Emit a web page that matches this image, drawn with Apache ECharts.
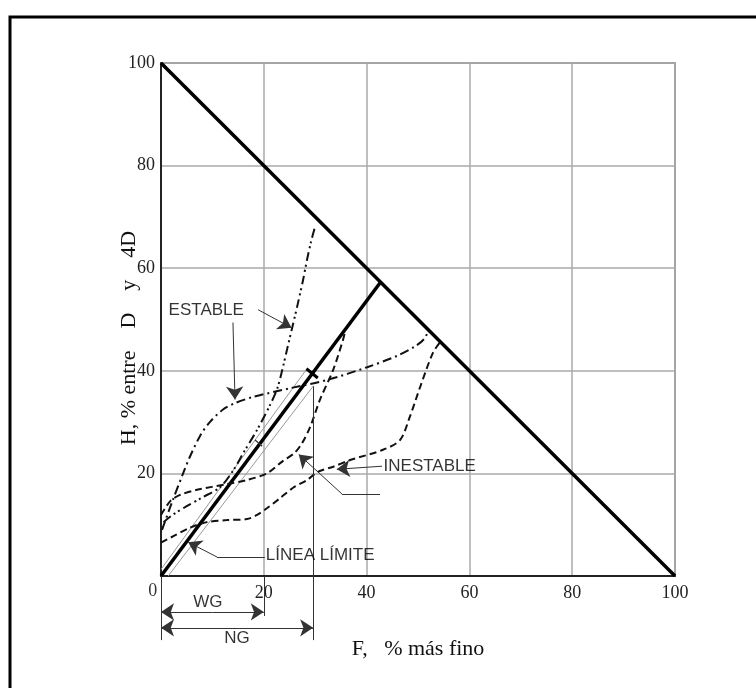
<!DOCTYPE html>
<html>
<head>
<meta charset="utf-8">
<script src="https://cdn.jsdelivr.net/npm/echarts@6/dist/echarts.min.js"></script>
<style>
  html, body { margin: 0; padding: 0; background: #fff; }
  #chart { width: 756px; height: 688px; }
</style>
</head>
<body>
<div id="chart"></div>
<script>
// tick values (F and H axes share the same 0..100 ticks)
const ticks = [0, 20, 40, 60, 80, 100];

// reference lines
const diagonal = [[0, 100], [100, 0]];
const limitLine = [[0, 0], [42.6, 57.1]];
const limitThinLeft = [[0, 1.3], [28.4, 40.4]];
const limitThinRight = [[1.4, 0], [29.6, 37]];

// ESTABLE curves
const estableLow = [
  [0.2, 9], [2.3, 14.8], [4.3, 20], [5.6, 23.2], [7.6, 27.3], [9.5, 30],
  [12, 32.4], [14.4, 33.7], [17.9, 34.9], [25.1, 36.6], [32.3, 38.2],
  [40.1, 40.7], [45.9, 42.9], [49.5, 44.8], [51.2, 46.2], [52, 47.8]
];
const estableHigh = [
  [0.5, 10.5], [2.1, 11.8], [5, 13.6], [8, 15.3], [11.5, 17.3], [14, 20.5],
  [16.2, 24.3], [18.7, 28.5], [21.2, 33.3], [22.6, 36.5], [23.6, 40.2],
  [24.6, 44.5], [25.5, 48.3], [26.6, 53], [27.6, 57.5], [28.4, 61.6],
  [29.2, 65.2], [30, 68.2]
];

// INESTABLE curves
const inestableHigh = [
  [0, 11.9], [1.8, 14.6], [3.7, 15.8], [7, 16.8], [12.8, 17.9], [16.7, 18.7],
  [20.6, 20], [23.7, 22.4], [26, 24], [27.5, 26], [29, 29], [30.9, 34.3],
  [33.5, 40.2], [35.4, 46], [35.8, 47.6]
];
const inestableLow = [
  [0, 6.5], [2.1, 7.6], [5.6, 9.4], [8.9, 10.5], [12.8, 10.9], [16.7, 11.1],
  [18.7, 11.9], [20.6, 13.2], [23.2, 15.2], [25.7, 17.2], [28.4, 18.7],
  [30.5, 20.3], [33.5, 21.3], [36.8, 22.6], [43.2, 24.6], [46.5, 26.5],
  [48.4, 31], [50.4, 36.8], [52.9, 43.5], [54.3, 45.6]
];

const chart = echarts.init(document.getElementById("chart"));

const serif = "Liberation Serif";
const sans = "Liberation Sans";
const ink = "#111";

function curve(data, dash) {
  return {
    type: "line",
    data: data,
    symbol: "none",
    smooth: 0.3,
    silent: true,
    lineStyle: { color: ink, width: 2, type: dash },
    z: 4,
  };
}

function straight(data, color, width, z) {
  return {
    type: "line",
    data: data,
    symbol: "none",
    silent: true,
    lineStyle: { color: color, width: width },
    z: z || 3,
  };
}

// one straight segment in data coordinates, arrow heads optional
function segment(a, b, symbols) {
  return {
    type: "lines",
    coordinateSystem: "cartesian2d",
    clip: false,
    silent: true,
    symbol: symbols || ["none", "none"],
    symbolSize: [6, 13],
    lineStyle: { color: "#333", width: 1, opacity: 1, curveness: 0 },
    data: [{ coords: [a, b] }],
    z: 5,
  };
}

// leader polyline, arrow at the last point
function leader(coords) {
  const out = [];
  for (let i = 0; i < coords.length - 1; i++) {
    const last = i === coords.length - 2;
    out.push(segment(coords[i], coords[i + 1], last ? ["none", "arrow"] : null));
  }
  return out;
}

function note(text, pos, opts) {
  opts = opts || {};
  return {
    type: "scatter",
    symbolSize: 0,
    silent: true,
    clip: false,
    data: [{ value: pos }],
    label: {
      show: true,
      formatter: text,
      position: opts.left ? "right" : "inside",
      distance: 0,
      color: "#000",
      fontFamily: opts.font || sans,
      fontSize: opts.size || 17,
    },
    z: 6,
  };
}

const tickLabel = { fontFamily: serif, fontSize: 18, color: "#222" };

const option = {
  backgroundColor: "#fff",
  animation: false,
  grid: {
    left: 161, top: 63, width: 514, height: 513,
    show: true, borderColor: "#777", borderWidth: 1.5,
  },
  xAxis: {
    type: "value", min: ticks[0], max: ticks[ticks.length - 1], interval: 20,
    name: "F,   % más fino", nameLocation: "middle", nameGap: 62,
    nameTextStyle: { fontFamily: serif, fontSize: 22, color: ink },
    axisLine: { lineStyle: { color: "#222", width: 2 } },
    axisTick: { show: false },
    axisLabel: Object.assign({ margin: 8, showMinLabel: false }, tickLabel),
    splitLine: { lineStyle: { color: "#aaa", width: 1.5 } },
  },
  yAxis: {
    type: "value", min: ticks[0], max: ticks[ticks.length - 1], interval: 20,
    axisLine: { show: true, lineStyle: { color: "#222", width: 2 } },
    axisTick: { show: false },
    axisLabel: Object.assign({ margin: 6, showMinLabel: false }, tickLabel),
    splitLine: { lineStyle: { color: "#aaa", width: 1.5 } },
  },
  graphic: [
    {
      type: "rect", silent: true, z: 0,
      shape: { x: 10, y: 17, width: 760, height: 700 },
      style: { fill: "none", stroke: "#000", lineWidth: 3 },
    },
    {
      type: "text", silent: true, x: 129, y: 338, rotation: Math.PI / 2,
      style: {
        text: "H, % entre    D    y    4D", fontFamily: serif, fontSize: 22,
        fill: ink, align: "center", verticalAlign: "middle",
      },
    },
  ],
  series: [
    straight(limitThinLeft, "#999", 1),
    straight(limitThinRight, "#999", 1),
    straight(diagonal, "#000", 3.5, 4),
    straight(limitLine, "#000", 3.5, 4),
    curve(estableLow, [9, 4, 2, 4]),
    curve(estableHigh, [9, 4, 2, 3, 2, 4]),
    curve(inestableHigh, [7, 4]),
    curve(inestableLow, [7, 4]),
    // ticks on the limit line
    straight([[28.3, 40.4], [30.5, 38.6]], "#000", 3, 5),
    straight([[18.3, 26.5], [19.7, 25.3]], "#333", 1.2, 5),
    // dimension extension lines below the axis
    segment([0, 0], [0, -12.5]),
    segment([20, 0], [20, -7.8]),
    segment([29.6, 37], [29.6, -12.5]),
    segment([10, -7], [0, -7], ["none", "arrow"]),
    segment([10, -7], [20, -7], ["none", "arrow"]),
    segment([15, -10.1], [0, -10.1], ["none", "arrow"]),
    segment([15, -10.1], [29.6, -10.1], ["none", "arrow"]),
    // annotation leaders
    ...leader([[14, 49.4], [14.4, 34.4]]),
    ...leader([[18.9, 51.9], [25.4, 48.4]]),
    ...leader([[20.2, 3.7], [10.9, 3.7], [5.3, 6.6]]),
    ...leader([[42.6, 16], [35.2, 16], [26.8, 23.7]]),
    ...leader([[43, 21.4], [34.2, 20.8]]),
    note("ESTABLE", [8.8, 51.7]),
    note("INESTABLE", [43.3, 21.4], { left: true }),
    note("LÍNEA LÍMITE", [20.4, 4.1], { left: true }),
    note("WG", [9.1, -5.1]),
    note("NG", [14.8, -12.1]),
    note("0", [-1.6, -2.9], { font: serif, size: 18 }),
  ],
};

chart.setOption(option);
</script>
</body>
</html>
